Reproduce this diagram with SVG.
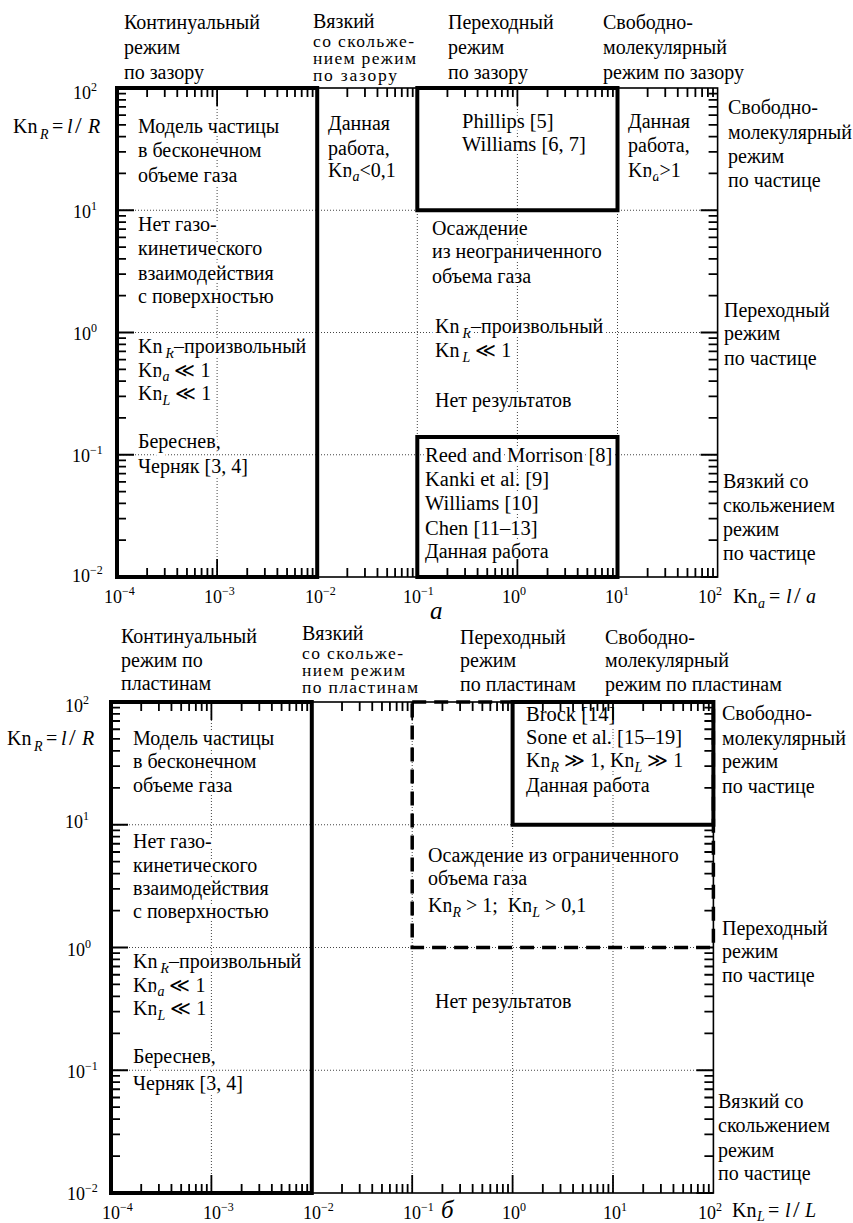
<svg xmlns="http://www.w3.org/2000/svg" width="853" height="1223" viewBox="0 0 853 1223">
<style>
text{font-family:"Liberation Serif","Times New Roman",serif;font-size:20px;fill:#000}
.h{stroke:#fff;stroke-width:6;stroke-linejoin:round;paint-order:stroke}
.lat{font-size:20.5px}
.hd{font-size:17.5px}
.tk{font-size:18px}
.sup{font-size:12px}
.sb{font-size:14px;font-style:italic}
.it{font-style:italic}
.sl{font-size:24px}
.big{font-size:25px;font-style:italic}
.thin{fill:none;stroke:#000;stroke-width:1.6}
.thick{fill:none;stroke:#000;stroke-width:4}
.grid{fill:none;stroke:#444;stroke-width:1;stroke-dasharray:1 2}
.tick{fill:none;stroke:#000;stroke-width:1.8}
.dd{fill:none;stroke:#000;stroke-width:3.5;stroke-dasharray:14 8}
</style>
<defs>
<path id="tA" class="tick" d="M0,0v18M30.13,0v9M47.76,0v9M60.27,0v9M69.97,0v9M77.89,0v9M84.59,0v9M90.4,0v9M95.52,0v9"/>
<path id="tB" class="tick" d="M0,0h17M0,-36.8h9M0,-58.33h9M0,-73.6h9M0,-85.45h9M0,-95.13h9M0,-103.31h9M0,-110.4h9M0,-116.65h9"/>
<path id="tC" class="tick" d="M0,0v18M30.22,0v9M47.9,0v9M60.45,0v9M70.17,0v9M78.12,0v9M84.85,0v9M90.67,0v9M95.81,0v9"/>
<path id="tD" class="tick" d="M0,0h17M0,-36.95h9M0,-58.57h9M0,-73.9h9M0,-85.8h9M0,-95.52h9M0,-103.73h9M0,-110.85h9M0,-117.13h9"/>
</defs>

<!-- ============ TOP PLOT (a) ============ -->
<g id="gridA">
<path class="grid" d="M117,210.25H717.6M117,332.5H717.6M117,454.75H717.6M217.1,88V577M417.3,88V577M517.4,88V577M617.5,88V577"/>
</g>

<g id="headersA">
<text x="124" y="29">Континуальный</text>
<text x="124" y="54">режим</text>
<text x="124" y="79">по зазору</text>
<text x="313" y="28">Вязкий</text>
<text class="hd" x="313" y="47" textLength="101" lengthAdjust="spacing">со скольже-</text>
<text class="hd" x="313" y="64" textLength="103" lengthAdjust="spacing">нием режим</text>
<text class="hd" x="313" y="81" textLength="84" lengthAdjust="spacing">по зазору</text>
<text x="448" y="29">Переходный</text>
<text x="448" y="54">режим</text>
<text x="448" y="79">по зазору</text>
<text x="603" y="29">Свободно-</text>
<text x="603" y="54">молекулярный</text>
<text x="603" y="79">режим по зазору</text>
</g>

<g id="rightA">
<text x="728" y="114">Свободно-</text>
<text x="728" y="139">молекулярный</text>
<text x="728" y="163">режим</text>
<text x="728" y="187">по частице</text>
<text x="724" y="317">Переходный</text>
<text x="724" y="340">режим</text>
<text x="724" y="365">по частице</text>
<text x="723" y="488">Вязкий со</text>
<text x="723" y="512">скольжением</text>
<text x="723" y="536">режим</text>
<text x="723" y="560">по частице</text>
</g>

<g id="axisA">
<text x="13" y="133">Kn<tspan class="sb" x="40" dy="6">R</tspan><tspan x="52" dy="-6">=</tspan><tspan class="it" x="67">l</tspan><tspan class="sl" x="75">/</tspan><tspan class="it" x="88">R</tspan></text>
<text class="tk" x="73" y="99">10<tspan class="sup" dy="-8">2</tspan></text>
<text class="tk" x="73" y="218">10<tspan class="sup" dy="-8">1</tspan></text>
<text class="tk" x="73" y="340">10<tspan class="sup" dy="-8">0</tspan></text>
<text class="tk" x="72" y="462">10<tspan class="sup" dy="-8">−1</tspan></text>
<text class="tk" x="72" y="582">10<tspan class="sup" dy="-8">−2</tspan></text>
<text class="tk" x="104" y="603">10<tspan class="sup" dy="-8">−4</tspan></text>
<text class="tk" x="204" y="603">10<tspan class="sup" dy="-8">−3</tspan></text>
<text class="tk" x="305" y="603">10<tspan class="sup" dy="-8">−2</tspan></text>
<text class="tk" x="403" y="603">10<tspan class="sup" dy="-8">−1</tspan></text>
<text class="tk" x="502" y="603">10<tspan class="sup" dy="-8">0</tspan></text>
<text class="tk" x="605" y="603">10<tspan class="sup" dy="-8">1</tspan></text>
<text class="tk" x="698" y="603">10<tspan class="sup" dy="-8">2</tspan></text>
<text x="733" y="603">Kn<tspan class="sb" x="758" dy="5">a</tspan><tspan x="769" dy="-5">=</tspan><tspan class="it" x="786">l</tspan><tspan class="sl" x="794">/</tspan><tspan class="it" x="806">a</tspan></text>
<text class="big" x="430" y="619">а</text>
</g>

<g id="nodeA1" class="h">
<text x="138" y="133">Модель частицы</text>
<text x="138" y="157">в бесконечном</text>
<text x="138" y="182">объеме газа</text>
</g>
<g id="nodeA2" class="h">
<text x="138" y="231">Нет газо-</text>
<text x="138" y="255">кинетического</text>
<text x="138" y="280">взаимодействия</text>
<text x="138" y="303">с поверхностью</text>
</g>
<g id="nodeA3" class="h">
<text x="138" y="353">Kn<tspan class="sb" dx="3" dy="5">R</tspan><tspan dy="-5">–произвольный</tspan></text>
<text x="138" y="377">Kn<tspan class="sb" dy="4">a</tspan><tspan dy="-4"> ≪ 1</tspan></text>
<text x="138" y="400">Kn<tspan class="sb" dy="5">L</tspan><tspan dy="-5"> ≪ 1</tspan></text>
</g>
<g id="nodeA4" class="h">
<text x="138" y="448">Береснев,</text>
<text x="138" y="473">Черняк [3, 4]</text>
</g>
<g id="nodeA5" class="h">
<text x="328" y="130">Данная</text>
<text x="328" y="155">работа,</text>
<text x="328" y="177">Kn<tspan class="sb" dy="4">a</tspan><tspan dy="-4">&lt;0,1</tspan></text>
</g>
<g id="nodeA6" class="h">
<text class="lat" x="462" y="128">Phillips [5]</text>
<text class="lat" x="462" y="151">Williams [6, 7]</text>
</g>
<g id="nodeA7" class="h">
<text x="628" y="128">Данная</text>
<text x="628" y="152">работа,</text>
<text x="628" y="177">Kn<tspan class="sb" dy="4">a</tspan><tspan dy="-4">&gt;1</tspan></text>
</g>
<g id="nodeA8" class="h">
<text x="432" y="235">Осаждение</text>
<text x="432" y="258">из неограниченного</text>
<text x="432" y="283">объема газа</text>
</g>
<g id="nodeA9" class="h">
<text x="435" y="333">Kn<tspan class="sb" dx="3" dy="5">R</tspan><tspan dy="-5">–произвольный</tspan></text>
<text x="435" y="357">Kn<tspan class="sb" dx="3" dy="5">L</tspan><tspan dy="-5"> ≪ 1</tspan></text>
</g>
<g id="nodeA10" class="h">
<text x="435" y="407">Нет результатов</text>
</g>
<g id="nodeA11" class="h">
<text class="lat" x="425" y="462">Reed and Morrison [8]</text>
<text class="lat" x="425" y="486">Kanki et al. [9]</text>
<text class="lat" x="425" y="510">Williams [10]</text>
<text class="lat" x="425" y="535">Chen [11–13]</text>
<text x="425" y="558">Данная работа</text>
</g>

<g id="framesA">
<rect class="thin" x="117" y="88" width="600.6" height="489"/>
<rect class="thick" x="117" y="88" width="200.2" height="489"/>
<rect class="thick" x="417.3" y="88" width="200.2" height="122.25"/>
<rect class="thick" x="417.3" y="437" width="200.2" height="140"/>
</g>
<g id="ticksA">
<use href="#tA" x="117" y="88"/><use href="#tA" x="217.1" y="88"/><use href="#tA" x="317.2" y="88"/><use href="#tA" x="417.3" y="88"/><use href="#tA" x="517.4" y="88"/><use href="#tA" x="617.5" y="88"/>
<use href="#tA" transform="translate(117,577) scale(1,-1)"/><use href="#tA" transform="translate(217.1,577) scale(1,-1)"/><use href="#tA" transform="translate(317.2,577) scale(1,-1)"/><use href="#tA" transform="translate(417.3,577) scale(1,-1)"/><use href="#tA" transform="translate(517.4,577) scale(1,-1)"/><use href="#tA" transform="translate(617.5,577) scale(1,-1)"/>
<use href="#tB" x="117" y="577"/><use href="#tB" x="117" y="454.75"/><use href="#tB" x="117" y="332.5"/><use href="#tB" x="117" y="210.25"/>
<use href="#tB" transform="translate(717.6,577) scale(-1,1)"/><use href="#tB" transform="translate(717.6,454.75) scale(-1,1)"/><use href="#tB" transform="translate(717.6,332.5) scale(-1,1)"/><use href="#tB" transform="translate(717.6,210.25) scale(-1,1)"/>
</g>

<!-- ============ BOTTOM PLOT (б) ============ -->
<g id="gridB">
<path class="grid" d="M111,824.75H713.4M111,947.5H713.4M111,1070.25H713.4M211.4,702V1193M412.2,702V1193M512.6,702V1193M613,702V1193"/>
</g>

<g id="headersB">
<text x="121" y="643">Континуальный</text>
<text x="121" y="667">режим по</text>
<text x="121" y="690">пластинам</text>
<text x="302" y="640">Вязкий</text>
<text class="hd" x="302" y="659" textLength="101" lengthAdjust="spacing">со скольже-</text>
<text class="hd" x="302" y="676" textLength="103" lengthAdjust="spacing">нием режим</text>
<text class="hd" x="302" y="693" textLength="116" lengthAdjust="spacing">по пластинам</text>
<text x="460" y="644">Переходный</text>
<text x="460" y="667">режим</text>
<text x="460" y="691">по пластинам</text>
<text x="605" y="644">Свободно-</text>
<text x="605" y="667">молекулярный</text>
<text x="605" y="691">режим по пластинам</text>
</g>

<g id="rightB">
<text x="722" y="720">Свободно-</text>
<text x="722" y="745">молекулярный</text>
<text x="722" y="768">режим</text>
<text x="722" y="793">по частице</text>
<text x="722" y="935">Переходный</text>
<text x="722" y="958">режим</text>
<text x="722" y="982">по частице</text>
<text x="718" y="1108">Вязкий со</text>
<text x="718" y="1132">скольжением</text>
<text x="718" y="1157">режим</text>
<text x="718" y="1180">по частице</text>
</g>

<g id="axisB">
<text x="7" y="745">Kn<tspan class="sb" x="34" dy="6">R</tspan><tspan x="46" dy="-6">=</tspan><tspan class="it" x="61">l</tspan><tspan class="sl" x="69">/</tspan><tspan class="it" x="82">R</tspan></text>
<text class="tk" x="65" y="712">10<tspan class="sup" dy="-8">2</tspan></text>
<text class="tk" x="65" y="828">10<tspan class="sup" dy="-8">1</tspan></text>
<text class="tk" x="67" y="956">10<tspan class="sup" dy="-8">0</tspan></text>
<text class="tk" x="67" y="1078">10<tspan class="sup" dy="-8">−1</tspan></text>
<text class="tk" x="67" y="1200">10<tspan class="sup" dy="-8">−2</tspan></text>
<text class="tk" x="102" y="1219">10<tspan class="sup" dy="-8">−4</tspan></text>
<text class="tk" x="203" y="1219">10<tspan class="sup" dy="-8">−3</tspan></text>
<text class="tk" x="303" y="1219">10<tspan class="sup" dy="-8">−2</tspan></text>
<text class="tk" x="403" y="1219">10<tspan class="sup" dy="-8">−1</tspan></text>
<text class="tk" x="502" y="1219">10<tspan class="sup" dy="-8">0</tspan></text>
<text class="tk" x="603" y="1219">10<tspan class="sup" dy="-8">1</tspan></text>
<text class="tk" x="698" y="1219">10<tspan class="sup" dy="-8">2</tspan></text>
<text x="732" y="1217">Kn<tspan class="sb" x="757" dy="4">L</tspan><tspan x="768" dy="-4">=</tspan><tspan class="it" x="785">l</tspan><tspan class="sl" x="793">/</tspan><tspan class="it" x="805">L</tspan></text>
<text class="big" x="441" y="1218">б</text>
</g>

<g id="nodeB1" class="h">
<text x="133" y="745">Модель частицы</text>
<text x="133" y="768">в бесконечном</text>
<text x="133" y="792">объеме газа</text>
</g>
<g id="nodeB2" class="h">
<text x="133" y="848">Нет газо-</text>
<text x="133" y="872">кинетического</text>
<text x="133" y="895">взаимодействия</text>
<text x="133" y="918">с поверхностью</text>
</g>
<g id="nodeB3" class="h">
<text x="133" y="968">Kn<tspan class="sb" dx="3" dy="5">R</tspan><tspan dy="-5">–произвольный</tspan></text>
<text x="133" y="992">Kn<tspan class="sb" dy="4">a</tspan><tspan dy="-4"> ≪ 1</tspan></text>
<text x="133" y="1015">Kn<tspan class="sb" dy="5">L</tspan><tspan dy="-5"> ≪ 1</tspan></text>
</g>
<g id="nodeB4" class="h">
<text x="133" y="1063">Береснев,</text>
<text x="133" y="1090">Черняк [3, 4]</text>
</g>
<g id="nodeB5" class="h">
<text class="lat" x="526" y="721">Brock [14]</text>
<text class="lat" x="526" y="744">Sone et al. [15–19]</text>
<text x="526" y="767">Kn<tspan class="sb" dy="5">R</tspan><tspan dy="-5"> ≫ 1, Kn</tspan><tspan class="sb" dy="5">L</tspan><tspan dy="-5"> ≫ 1</tspan></text>
<text x="526" y="792">Данная работа</text>
</g>
<g id="nodeB6" class="h">
<text x="428" y="862">Осаждение из ограниченного</text>
<text x="428" y="885">объема газа</text>
<text x="428" y="912">Kn<tspan class="sb" dy="5">R</tspan><tspan dy="-5"> &gt; 1;&#160; Kn</tspan><tspan class="sb" dy="5">L</tspan><tspan dy="-5"> &gt; 0,1</tspan></text>
</g>
<g id="nodeB7" class="h">
<text x="435" y="1008">Нет результатов</text>
</g>

<g id="framesB">
<rect class="thin" x="111" y="702" width="602.4" height="491"/>
<rect class="thick" x="111" y="702" width="200.8" height="491"/>
<rect class="dd" x="412.2" y="702" width="301.2" height="245.5"/>
<rect class="thick" x="512.6" y="702" width="200.8" height="122.75"/>
</g>
<g id="ticksB">
<use href="#tC" x="111" y="702"/><use href="#tC" x="211.4" y="702"/><use href="#tC" x="311.8" y="702"/><use href="#tC" x="412.2" y="702"/><use href="#tC" x="512.6" y="702"/><use href="#tC" x="613" y="702"/>
<use href="#tC" transform="translate(111,1193) scale(1,-1)"/><use href="#tC" transform="translate(211.4,1193) scale(1,-1)"/><use href="#tC" transform="translate(311.8,1193) scale(1,-1)"/><use href="#tC" transform="translate(412.2,1193) scale(1,-1)"/><use href="#tC" transform="translate(512.6,1193) scale(1,-1)"/><use href="#tC" transform="translate(613,1193) scale(1,-1)"/>
<use href="#tD" x="111" y="1193"/><use href="#tD" x="111" y="1070.25"/><use href="#tD" x="111" y="947.5"/><use href="#tD" x="111" y="824.75"/>
<use href="#tD" transform="translate(713.4,1193) scale(-1,1)"/><use href="#tD" transform="translate(713.4,1070.25) scale(-1,1)"/><use href="#tD" transform="translate(713.4,947.5) scale(-1,1)"/><use href="#tD" transform="translate(713.4,824.75) scale(-1,1)"/>
</g>
</svg>
